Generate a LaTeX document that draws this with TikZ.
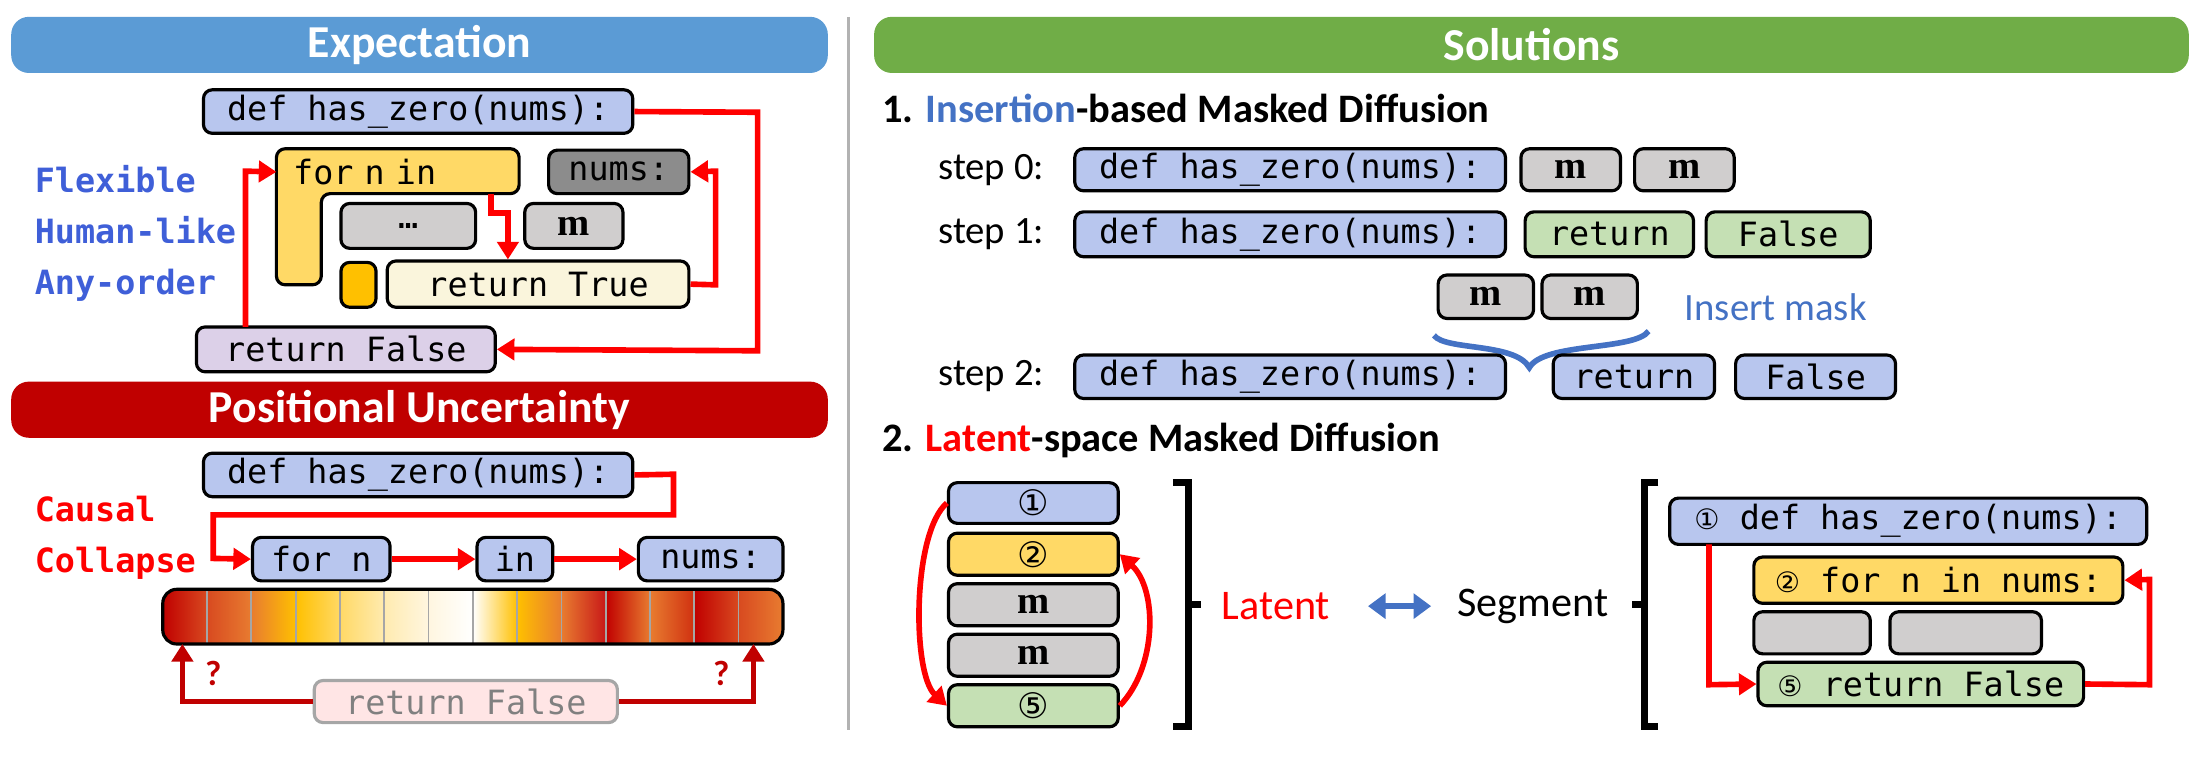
\documentclass[tikz,border=0pt]{standalone}
\usepackage{fontspec}
\setmainfont{Carlito}
\newfontfamily\cmono{DejaVu Sans Mono}
\newfontfamily\djs{DejaVu Sans}
\usetikzlibrary{arrows.meta}
\definecolor{bbl}{HTML}{B8C6EE}
\definecolor{byl}{HTML}{FFD966}
\definecolor{bgr}{HTML}{D0CECE}
\definecolor{bdg}{HTML}{8C8C8C}
\definecolor{bgn}{HTML}{C5E0B4}
\definecolor{bcr}{HTML}{FAF5DC}
\definecolor{blv}{HTML}{DCD0E8}
\definecolor{bor}{HTML}{FFC000}
\definecolor{hblue}{HTML}{5B9BD5}
\definecolor{hred}{HTML}{C00000}
\definecolor{hgreen}{HTML}{70AD47}
\definecolor{tblue}{HTML}{3F5FD8}
\definecolor{iblue}{HTML}{4472C4}
\definecolor{rr}{HTML}{FF0000}
\tikzset{
 cb/.style={draw=black,line width=0.9pt,rounded corners=2.5pt,inner sep=0pt,font=\cmono\fontsize{9.5}{10}\selectfont},
 hdr/.style={rounded corners=5pt,inner sep=0pt,text=white,font=\bfseries\fontsize{13}{14}\selectfont},
 ra/.style={draw=rr,line width=1.6pt,-{Triangle[length=5pt,width=6pt]}},
 da/.style={draw=hred,line width=1.6pt,-{Triangle[length=5pt,width=6pt]}},
 lbl/.style={font=\cmono\bfseries\fontsize{9.5}{11.5}\selectfont,align=left,anchor=west},
 st/.style={font=\fontsize{11}{12}\selectfont,anchor=west},
 ttl/.style={font=\bfseries\fontsize{11.5}{12}\selectfont,anchor=west}
}
\newcommand\mybox[7]{\node[cb,fill=#2,minimum width={(#5-#3)*0.01403cm},minimum height={(#6-#4)*0.01403cm}] (#1) at ({(#3+#5)/2},{(#4+#6)/2}) {#7};}
\newcommand\myhdr[7]{\node[hdr,fill=#2,minimum width={(#5-#3)*0.01403cm},minimum height={(#6-#4)*0.01403cm}] (#1) at ({(#3+#5)/2},{(#4+#6)/2}) {#7};}
\newcommand\mmk{\textbf{\fontspec{Liberation Serif}\fontsize{11}{12}\selectfont m}}
\begin{document}
\begin{tikzpicture}[x=0.01403cm,y=-0.01403cm]
\useasboundingbox (0,0) rectangle (1568,547);
% ===== Expectation =====
\myhdr{hexp}{hblue}{8}{12}{590}{52}{Expectation}
\mybox{edef}{bbl}{145}{64}{451}{95}{def has\_zero(nums):}
\filldraw[fill=byl,draw=black,line width=0.9pt,rounded corners=2.5pt] (197,106) -- (370,106) -- (370,138) -- (229,138) -- (229,203) -- (197,203) -- cycle;
\node[inner sep=0pt,minimum width={173*0.01403cm},minimum height={32*0.01403cm},font=\cmono\fontsize{9.5}{10}\selectfont,anchor=north west,text width={150*0.01403cm}] (efor) at (197,106) {for n in};
\mybox{enums}{bdg}{391}{107}{491}{138}{nums:}
\mybox{edots}{bgr}{243}{145}{339}{177}{\raisebox{-0.3ex}{…}}
\mybox{em}{bgr}{374}{145}{444}{177}{\mmk}
\mybox{esq}{bor}{243}{187}{268}{219}{}
\mybox{etrue}{bcr}{276}{186}{491}{219}{return True}
\mybox{efalse}{blv}{140}{233}{353}{265}{return False}
\node[lbl,text=tblue] (flex) at (16,166) {Flexible\\[3pt]Human-like\\[3pt]Any-order};
\draw[ra] (edef.east) -- (540,80) -- (540,250) -- (efalse.east);
\draw[ra] (175,233) -- (175,122) -- (efor.west);
\draw[ra] (350,138) -- (350,152) -- (362,152) -- (etrue.north -| 362,0);
\draw[ra] (etrue.east) -- (510,203) -- (510,122) -- (enums.east);
% ===== Positional Uncertainty =====
\myhdr{hpos}{hred}{8}{272}{590}{312}{Positional Uncertainty}
\mybox{pdef}{bbl}{145}{323}{451}{354}{def has\_zero(nums):}
\mybox{pfor}{bbl}{180}{383}{278}{414}{for n}
\mybox{pin}{bbl}{340}{383}{394}{414}{in}
\mybox{pnums}{bbl}{455}{383}{558}{414}{nums:}
\node[lbl,text=rr] (causal) at (16,383) {Causal\\[3pt]Collapse};
\draw[ra] (pdef.east) -- (480,338) -- (480,367) -- (152,367) -- (152,398) -- (pfor.west);
\draw[ra] (pfor.east) -- (pin.west);
\draw[ra] (pin.east) -- (pnums.west);
\begin{scope}
\clip[rounded corners=4pt] (116,420) rectangle (558,459);
\def\sw{31.571}
\foreach \i/\a/\b in {0/C00000/D84A20,1/D84A20/E87C30,2/E87C30/FFC000,3/FFC000/FFD966,4/FFD966/FFEBB0,5/FFEBB0/FFF6E0,6/FFF6E0/FFFFFF,7/FFFFFF/FFC000,8/FFC000/E87C30,9/E87C30/C81818,10/C00000/E87C30,11/E87C30/D03010,12/C00000/D84A20,13/D84A20/E87C30}{
 \definecolor{ca}{HTML}{\a}\definecolor{cb}{HTML}{\b}
 \shade[left color=ca,right color=cb] ({116+\i*\sw},420) rectangle ({116+(\i+1)*\sw+0.3},459);
}
\foreach \i in {1,...,13}{\draw[gray!70,line width=0.5pt] ({116+\i*\sw},420) -- ({116+\i*\sw},459);}
\end{scope}
\node[draw=black,line width=0.9pt,rounded corners=4pt,minimum width={442*0.01403cm},minimum height={39*0.01403cm},inner sep=0pt] (bar) at (337,439.5) {};
\node[cb,draw=gray!70,fill=red!10,text=gray,minimum width={216*0.01403cm},minimum height={30*0.01403cm}] (pfalse) at (332,500) {return False};
\draw[da] (pfalse.west) -- (130,500) -- (130,459);
\draw[da] (pfalse.east) -- (537,500) -- (537,459);
\node[font=\bfseries\fontsize{10}{10}\selectfont,text=hred] (q1) at (152,480) {?};
\node[font=\bfseries\fontsize{10}{10}\selectfont,text=hred] (q2) at (514,480) {?};
% divider
\draw[gray!60,line width=0.8pt] (605,12) -- (605,520);
% ===== Solutions =====
\myhdr{hsol}{hgreen}{623}{12}{1560}{52}{Solutions}
\node[ttl] (t1) at (620,77) {1. \textcolor{iblue}{Insertion}-based Masked Diffusion};
\node[st] (s0) at (660,121) {step 0:};
\node[st] (s1) at (660,167) {step 1:};
\node[st] (s2) at (660,268) {step 2:};
\mybox{d0}{bbl}{766}{106}{1073}{136}{def has\_zero(nums):}
\mybox{m01}{bgr}{1084}{106}{1155}{136}{\mmk}
\mybox{m02}{bgr}{1165}{106}{1236}{136}{\mmk}
\mybox{d1}{bbl}{766}{151}{1073}{183}{def has\_zero(nums):}
\mybox{r1}{bgn}{1087}{151}{1207}{183}{return}
\mybox{f1}{bgn}{1216}{151}{1333}{183}{False}
\mybox{mi1}{bgr}{1025}{196}{1093}{227}{\mmk}
\mybox{mi2}{bgr}{1099}{196}{1167}{227}{\mmk}
\draw[iblue,line width=1.6pt] (1022,239) .. controls (1030,250) and (1080,244) .. (1090,262) .. controls (1100,244) and (1165,250) .. (1175,236);
\node[st,text=iblue] (ins) at (1192,219) {Insert mask};
\mybox{d2}{bbl}{766}{253}{1073}{284}{def has\_zero(nums):}
\mybox{r2}{bbl}{1107}{253}{1222}{284}{return}
\mybox{f2}{bbl}{1237}{253}{1351}{284}{False}
\node[ttl] (t2) at (620,314) {2. \textcolor{rr}{Latent}-space Masked Diffusion};
\mybox{l1}{bbl}{676}{344}{797}{373}{\djs\fontsize{10}{10}\selectfont ①}
\mybox{l2}{byl}{676}{380}{797}{410}{\djs\fontsize{10}{10}\selectfont ②}
\mybox{l3}{bgr}{676}{416}{797}{446}{\mmk}
\mybox{l4}{bgr}{676}{452}{797}{482}{\mmk}
\mybox{l5}{bgn}{676}{488}{797}{518}{\djs\fontsize{10}{10}\selectfont ⑤}
\draw[ra] (l1.west) .. controls (650,380) and (650,480) .. (l5.west);
\draw[ra] (l5.east) .. controls (825,475) and (825,420) .. (l2.east);
\draw[black,line width=2pt] (836,344) -- (847,344) -- (847,518) -- (836,518) (847,431) -- (856,431);
\node[st,text=rr,font=\fontsize{12}{12}\selectfont] (lat) at (862,432) {Latent};
\draw[iblue,line width=1.6pt,{Triangle[length=5pt,width=7pt]}-{Triangle[length=5pt,width=7pt]}] (975,432) -- (1020,432);
\node[st,font=\fontsize{12}{12}\selectfont] (seg) at (1030,432) {Segment};
\draw[black,line width=2pt] (1182,344) -- (1172,344) -- (1172,518) -- (1182,518) (1172,431) -- (1163,431);
\mybox{sd}{bbl}{1190}{355}{1530}{388}{{\djs\fontsize{8}{8}\selectfont ①} def has\_zero(nums):}
\mybox{sf}{byl}{1250}{397}{1513}{430}{{\djs\fontsize{8}{8}\selectfont ②} for n in nums:}
\mybox{sg1}{bgr}{1250}{436}{1333}{466}{}
\mybox{sg2}{bgr}{1347}{436}{1455}{466}{}
\mybox{sr}{bgn}{1253}{472}{1485}{503}{{\djs\fontsize{8}{8}\selectfont ⑤} return False}
\draw[ra] (1218,388) -- (1218,488) -- (sr.west);
\draw[ra] (sr.east) -- (1532,488) -- (1532,413) -- (sf.east);
\end{tikzpicture}
\end{document}
